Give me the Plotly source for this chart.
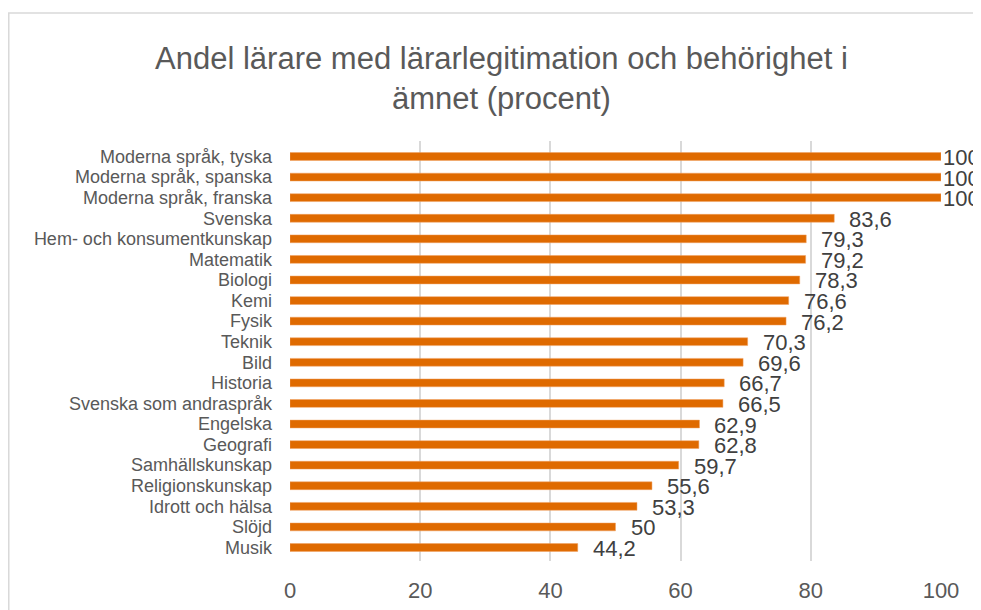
import plotly.graph_objects as go

# Data
amnen = ["Moderna språk, tyska", "Moderna språk, spanska", "Moderna språk, franska",
         "Svenska", "Hem- och konsumentkunskap", "Matematik", "Biologi", "Kemi",
         "Fysik", "Teknik", "Bild", "Historia", "Svenska som andraspråk", "Engelska",
         "Geografi", "Samhällskunskap", "Religionskunskap", "Idrott och hälsa",
         "Slöjd", "Musik"]
andel = [100, 100, 100, 83.6, 79.3, 79.2, 78.3, 76.6, 76.2, 70.3, 69.6, 66.7,
         66.5, 62.9, 62.8, 59.7, 55.6, 53.3, 50, 44.2]
x_ticks = [0, 20, 40, 60, 80, 100]

font = "Liberation Sans, Arial, sans-serif"
orange = "#DF6A00"
grid = "#D9D9D9"

fig = go.Figure(go.Bar(
    x=andel, y=amnen, orientation="h",
    marker=dict(color=orange, line=dict(color="#F0A060", width=0.5)),
    width=0.38, hoverinfo="x+y"
))

# Dataetiketter med decimalkomma
for namn, v in zip(amnen, andel):
    fig.add_annotation(
        x=v, y=namn, text=f"{v:g}".replace(".", ","),
        showarrow=False, xanchor="left", yanchor="middle",
        xshift=0 if v >= 100 else 13, yshift=-1,
        font=dict(family=font, size=22, color="#404040")
    )

# Diagramram (ljusgrå kant)
fig.add_shape(type="rect", xref="paper", yref="paper",
              x0=-0.432, x1=1.2, y0=-0.3, y1=1.305,
              line=dict(color=grid, width=1.5), fillcolor="rgba(0,0,0,0)")

fig.update_layout(
    width=981, height=610,
    margin=dict(l=282, r=48, t=133, b=57),
    paper_bgcolor="white", plot_bgcolor="white",
    showlegend=False,
    title=dict(text="Andel lärare med lärarlegitimation och behörighet i<br>ämnet (procent)",
               x=0.503, xanchor="center", y=0.90, yanchor="middle",
               font=dict(family=font, size=31, color="#595959")),
    xaxis=dict(range=[0, 100], tickvals=x_ticks, showgrid=True, gridcolor=grid,
               gridwidth=1.5, zeroline=False, showline=False,
               tickfont=dict(family=font, size=22, color="#595959"),
               ticklabelstandoff=14, fixedrange=True),
    yaxis=dict(autorange="reversed", showgrid=False, showline=False, zeroline=False,
               tickmode="array", tickvals=amnen, ticktext=amnen,
               tickfont=dict(family=font, size=18, color="#595959"),
               ticklabelstandoff=17, fixedrange=True),
)

fig.write_html("out.html")
